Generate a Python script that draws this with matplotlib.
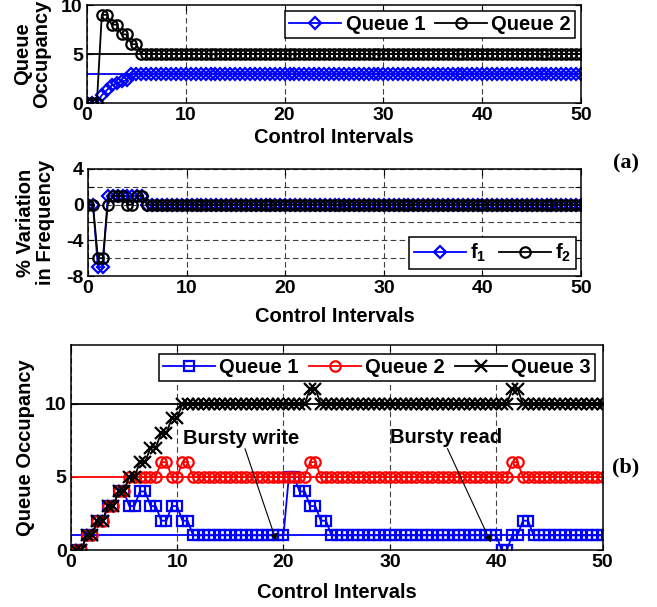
import numpy as np
import matplotlib
matplotlib.use('Agg')
import matplotlib.pyplot as plt

plt.rcParams['font.family'] = ['Liberation Sans', 'DejaVu Sans']
plt.rcParams['font.weight'] = 'bold'
plt.rcParams['axes.unicode_minus'] = False
plt.rcParams['mathtext.fontset'] = 'custom'
plt.rcParams['mathtext.rm'] = 'Liberation Sans:bold'
plt.rcParams['mathtext.bf'] = 'Liberation Sans:bold'
plt.rcParams['mathtext.it'] = 'Liberation Sans:bold'

# (a) 控制区间 0..50，步长 0.5
x_a = np.arange(0, 50.5, 0.5)
queue1_a = [0, 0, 0, 0.8, 1.3, 1.8, 2, 2.2, 2.3] + [3] * 92
queue2_a = [0, 0, 0, 9, 9, 8, 8, 7, 7, 6, 6] + [5] * 90
ref_a = [3, 5]

f1 = [0, 0, -7, -7, 1, 1, 1, 1, 1, 1, 1, 1] + [0] * 89
f2 = [0, 0, -6, -6, 0, 1, 1, 1, 0, 0, 1, 1] + [0] * 89

# (b) 控制区间 0.5..50
x_b = np.arange(0.5, 50.5, 0.5)
queue1_b = ([0, 0, 1, 1, 2, 2, 3, 3, 4, 4, 3, 3, 4, 4, 3, 3, 2, 2, 3, 3, 2, 2] + [1] * 18
            + [5, 5, 4, 4, 3, 3, 2, 2] + [1] * 32 + [0, 0, 1, 1, 2, 2] + [1] * 14)
queue2_b = ([0, 0, 1, 1, 2, 2, 3, 3, 4, 4] + [5] * 6 + [6, 6, 5, 5, 6, 6] + [5] * 22
            + [6, 6] + [5] * 36 + [6, 6] + [5] * 16)
queue3_b = ([0, 0, 1, 1, 2, 2, 3, 3, 4, 4, 5, 5, 6, 6, 7, 7, 8, 8, 9, 9] + [10] * 24
            + [11, 11] + [10] * 36 + [11, 11] + [10] * 16)
ref_b = [1, 5, 10]

xticks = [0, 10, 20, 30, 40, 50]

fig = plt.figure(figsize=(6.57, 6.07), dpi=100)
ax1 = fig.add_axes([0.1324, 0.8303, 0.752, 0.1614])
ax2 = fig.add_axes([0.134, 0.5453, 0.7504, 0.1763])
ax3 = fig.add_axes([0.1076, 0.0939, 0.8097, 0.3377])

grid_kw = dict(color='0.25', linestyle=(0, (5, 3)), linewidth=0.8)


def style(ax):
    ax.set_xlim(0, 50)
    ax.set_xticks(xticks)
    ax.tick_params(direction='in', top=True, right=True, length=4, width=0.8,
                   labelsize=14, pad=3)
    for s in ax.spines.values():
        s.set_linewidth(1.1)
    ax.xaxis.grid(True, **grid_kw)
    ax.set_axisbelow(True)


lw = 1.3
mew = 1.6

# 上图：队列占用
style(ax1)
ax1.axhline(ref_a[0], color='b', lw=lw, zorder=1)
ax1.axhline(ref_a[1], color='k', lw=lw, zorder=1)
ax1.plot(x_a, queue1_a, 'b-', marker='D', ms=6, mfc='none', mew=mew, lw=lw, label='Queue 1')
ax1.plot(x_a, queue2_a, 'k-', marker='o', ms=7.5, mfc='none', mew=mew, lw=lw, label='Queue 2')
ax1.set_ylim(0, 10)
ax1.set_yticks([0, 5, 10])
ax1.set_ylabel('Queue\nOccupancy', fontsize=14.5, fontweight='bold', linespacing=1.0)
ax1.yaxis.set_label_coords(-0.073, 0.5)
ax1.set_xlabel('Control Intervals', fontsize=14.5, fontweight='bold')
ax1.xaxis.set_label_coords(0.5, -0.255)
leg = ax1.legend(loc='upper right', bbox_to_anchor=(0.988, 0.935), ncol=2, fontsize=14.5,
                 handlelength=2.6, handletextpad=0.2, columnspacing=0.5, borderpad=0.2,
                 borderaxespad=0, fancybox=False, framealpha=1, edgecolor='k')
leg.get_frame().set_linewidth(1.1)

# 中图：频率变化
style(ax2)
ax2.yaxis.grid(True, **grid_kw)
ax2.plot(x_a, f1, 'b-', marker='D', ms=6, mfc='none', mew=mew, lw=lw, label=r'f$_1$')
ax2.plot(x_a, f2, 'k-', marker='o', ms=7.5, mfc='none', mew=mew, lw=lw, label=r'f$_2$')
ax2.set_ylim(-8, 4)
ax2.set_yticks([-8, -6, -4, -2, 0, 2, 4])
ax2.set_yticklabels(['-8', '', '-4', '', '0', '', '4'])
ax2.set_ylabel('% Variation\nin Frequency', fontsize=14.5, fontweight='bold', linespacing=1.1)
ax2.yaxis.set_label_coords(-0.067, 0.5)
ax2.set_xlabel('Control Intervals', fontsize=14.5, fontweight='bold')
ax2.xaxis.set_label_coords(0.5, -0.29)
leg = ax2.legend(loc='lower right', bbox_to_anchor=(0.99, 0.065), ncol=2, fontsize=14.5,
                 handlelength=2.6, handletextpad=0.2, columnspacing=0.6, borderpad=0.25,
                 borderaxespad=0, fancybox=False, framealpha=1, edgecolor='k')
leg.get_frame().set_linewidth(1.1)

# 下图：突发读写
style(ax3)
ax3.axhline(ref_b[0], color='b', lw=lw, zorder=1)
ax3.axhline(ref_b[1], color='r', lw=lw, zorder=1)
ax3.axhline(ref_b[2], color='k', lw=lw, zorder=1)
ax3.plot(x_b, queue1_b, 'b-', marker='s', ms=7, mfc='none', mew=mew, lw=lw, label='Queue 1')
ax3.plot(x_b, queue2_b, 'r-', marker='o', ms=7.5, mfc='none', mew=mew, lw=lw, label='Queue 2')
ax3.plot(x_b, queue3_b, 'k-', marker='x', ms=8, mew=mew, lw=lw, label='Queue 3')
ax3.set_ylim(0, 14)
ax3.set_yticks([0, 5, 10])
ax3.set_ylabel('Queue Occupancy', fontsize=14.5, fontweight='bold')
ax3.yaxis.set_label_coords(-0.067, 0.5)
ax3.set_xlabel('Control Intervals', fontsize=14.5, fontweight='bold')
ax3.xaxis.set_label_coords(0.5, -0.161)
leg = ax3.legend(loc='upper right', bbox_to_anchor=(0.9855, 0.956), ncol=3, fontsize=14.5,
                 handlelength=2.6, handletextpad=0.2, columnspacing=0.5, borderpad=0.2,
                 borderaxespad=0, fancybox=False, framealpha=1, edgecolor='k')
leg.get_frame().set_linewidth(1.1)

ax3.text(10.6, 7.6, 'Bursty write', fontsize=14.5, fontweight='bold', ha='left', va='center')
ax3.annotate('', xy=(19.4, 0.45), xytext=(16.3, 7.1),
             arrowprops=dict(arrowstyle='-|>', color='k', lw=0.8, mutation_scale=10))
ax3.text(30.0, 7.7, 'Bursty read', fontsize=14.5, fontweight='bold', ha='left', va='center')
ax3.annotate('', xy=(39.6, 0.35), xytext=(35.3, 7.1),
             arrowprops=dict(arrowstyle='-|>', color='k', lw=0.8, mutation_scale=10))

fig.text(0.953, 0.731, '(a)', family='Liberation Serif', fontweight='bold', fontsize=16,
         ha='center', va='center')
fig.text(0.953, 0.2306, '(b)', family='Liberation Serif', fontweight='bold', fontsize=16,
         ha='center', va='center')

fig.savefig('out.png', dpi=100)
